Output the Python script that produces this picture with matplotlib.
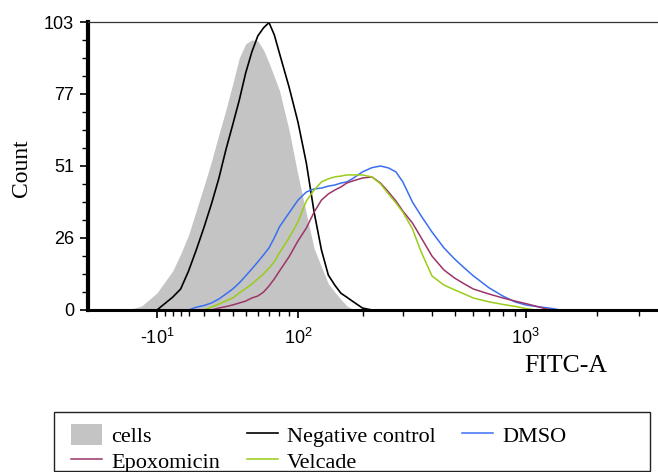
import numpy as np
import matplotlib.pyplot as plt
from matplotlib.patches import Rectangle

plt.rcParams['font.family'] = ['Liberation Sans', 'DejaVu Sans']
plt.rcParams['mathtext.default'] = 'regular'

# FITC-A channel values (shared grid) and counts
fitc = [-40, -30, -20, -10, 0, 5, 10, 15, 20, 25, 30, 35, 40, 45, 50, 55, 60, 65, 70,
        75, 80, 90, 100, 110, 120, 130, 140, 150, 160, 170, 180, 200, 220, 240, 260,
        280, 300, 330, 360, 400, 450, 500, 550, 600, 700, 800, 900, 1000, 1100, 1200,
        1300, 1400]

cells = [0, 0, 1.4, 6.1, 14, 20, 26.8, 35.6, 44.3, 53.1, 62.6, 71.5, 80.8, 90.2, 95.2,
         96.6, 96.2, 93, 88.4, 83.4, 78.6, 64.4, 48.3, 34.5, 22, 15.4, 9.4, 6.4, 3.8,
         1.5, 0.4, 0, 0, 0, 0, 0, 0, 0, 0, 0, 0, 0, 0, 0, 0, 0, 0, 0, 0, 0, 0, 0]

neg_control = [0, 0, 0, 0, 4.6, 7.5, 13.9, 21.5, 29.5, 37.9, 46.9, 57.2, 66.2, 75.1,
               84.8, 92.3, 98, 100.9, 102.8, 98.4, 91.9, 79.8, 67.2, 52.6, 35, 21.5,
               12.5, 8.9, 6, 4.6, 3.2, 0.7, 0, 0, 0, 0, 0, 0, 0, 0, 0, 0, 0, 0, 0, 0,
               0, 0, 0, 0, 0, 0]

dmso = [0, 0, 0, 0, 0, 0, 0, 1, 1.6, 2.5, 3.9, 5.7, 7.5, 9.7, 12.2, 14.7, 17.2, 19.7,
        22.2, 25.8, 29.7, 34.7, 39.3, 42.2, 43.3, 43.6, 44.3, 44.7, 45.4, 45.8, 46.9,
        49.4, 50.9, 51.5, 50.8, 49.4, 45.8, 38.6, 33.6, 27.9, 22.2, 18.2, 15, 12.2,
        7.9, 5, 2.9, 1.8, 1.3, 0.9, 0.5, 0]

velcade = [0, 0, 0, 0, 0, 0, 0, 0, 0, 1, 2.1, 3.2, 4.3, 6.1, 7.7, 9.3, 11.1, 12.9, 15,
           17.2, 20.4, 25.8, 31.5, 39, 42.9, 45.8, 46.9, 47.6, 47.9, 48.3, 48.3, 48.3,
           47.6, 45.1, 41.5, 38.3, 35, 29, 20.7, 12.2, 8.9, 7.2, 5.7, 4.3, 2.9, 2,
           1.3, 0.5, 0, 0, 0, 0]

epoxomicin = [0, 0, 0, 0, 0, 0, 0, 0, 0, 0, 0.7, 1.2, 1.8, 2.5, 3.2, 4.3, 5, 6.4, 8.6,
              11.1, 13.9, 19, 24.7, 29.3, 35, 39.3, 41.5, 42.9, 44, 45.4, 46.1, 47.2,
              47.6, 45.4, 42.2, 39, 35.4, 31.1, 25.8, 19.3, 14.3, 11.4, 9.3, 7.5, 5.7,
              4.3, 3.2, 2.3, 1.4, 0.5, 0, 0]

y_ticks = [0, 25.75, 51.5, 77.25, 103]
y_ticklabels = ['0', '26', '51', '77', '103']
x_ticks = [-10, 100, 1000]
x_ticklabels = ['-$10^{1}$', '$10^{2}$', '$10^{3}$']
x_minor = [-5, 0, 5, 10, 20, 30, 40, 50, 60, 70, 80, 90,
           200, 300, 400, 500, 600, 700, 800, 900, 2000, 3000]

fig = plt.figure(figsize=(6.58, 4.72), dpi=100)
ax = fig.add_axes([88/658, 162/472, 570/658, 288/472])

# logicle-like axis: linear near zero, log for large values
ax.set_xscale('function', functions=(lambda v: np.arcsinh(np.asarray(v) / 65.0),
                                      lambda v: 65.0 * np.sinh(np.asarray(v))))

h_cells = ax.fill_between(fitc, cells, color='#c4c4c4', lw=0, label='cells')
h_neg, = ax.plot(fitc, neg_control, color='black', lw=1.2, label='Negative control')
h_dmso, = ax.plot(fitc, dmso, color='#3a6ff2', lw=1.1, label='DMSO')
h_epo, = ax.plot(fitc, epoxomicin, color='#9c3467', lw=1.1, label='Epoxomicin')
h_vel, = ax.plot(fitc, velcade, color='#9acc1a', lw=1.1, label='Velcade')

ax.set_xlim(-59.7, 3613)
ax.set_ylim(0, 103)

ax.set_yticks(y_ticks)
ax.set_yticklabels(y_ticklabels)
ax.set_yticks(np.arange(0, 103.1, 103 / 16), minor=True)
ax.set_xticks(x_ticks)
ax.set_xticklabels(x_ticklabels)
ax.set_xticks(x_minor, minor=True)

ax.tick_params(axis='both', which='major', labelsize=13, width=1.2, length=6, color='black')
ax.tick_params(axis='both', which='minor', width=1.0, length=4)
ax.tick_params(axis='x', which='major', pad=7)
ax.tick_params(axis='y', which='major', pad=4)

ax.spines['left'].set_linewidth(3)
ax.spines['bottom'].set_linewidth(2.2)
ax.spines['top'].set_linewidth(0.9)
ax.spines['top'].set_color('#333333')
ax.spines['right'].set_visible(False)

fig.text(21/658, 1 - 168/472, 'Count', rotation=90, ha='center', va='center',
         fontsize=17, family='Liberation Serif')
fig.text(566/658, 1 - 366/472, 'FITC-A', ha='center', va='center',
         fontsize=18.5, family='Liberation Serif')

# legend box (cut by the lower figure edge as in the original)
fig.patches.append(Rectangle((54/658, 1 - 471/472), 596/658, 59/472,
                             transform=fig.transFigure, fill=False,
                             edgecolor='#222222', lw=1.0))
fig.legend([h_cells, h_epo, h_neg, h_vel, h_dmso],
           ['cells', 'Epoxomicin', 'Negative control', 'Velcade', 'DMSO'],
           ncol=3, loc='upper left', bbox_to_anchor=(60/658, 1 - 413/472),
           frameon=False, borderpad=0, handlelength=1.4, handleheight=1.1,
           handletextpad=0.4, columnspacing=1.2, labelspacing=0.1,
           prop={'family': 'Liberation Serif', 'size': 16})

fig.savefig('out.png', dpi=100)
